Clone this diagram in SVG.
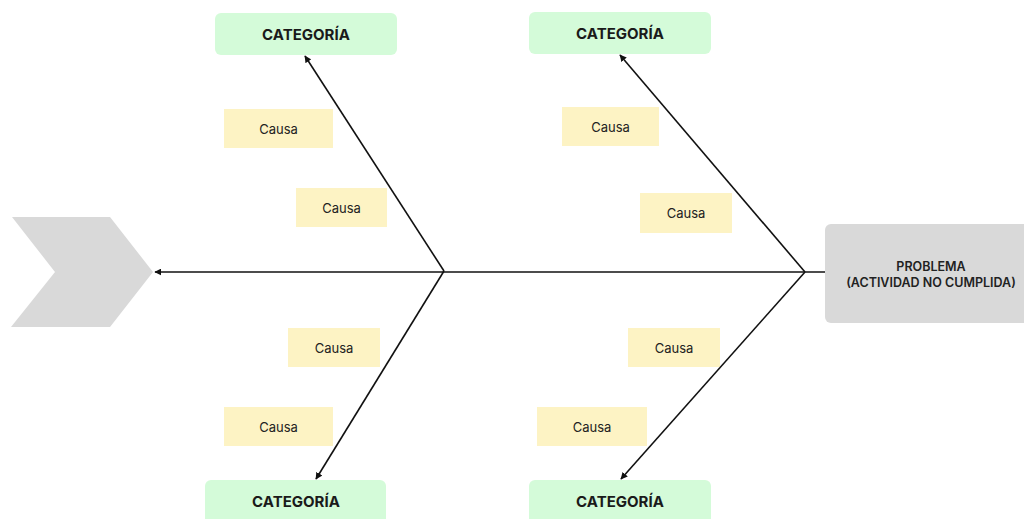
<svg xmlns="http://www.w3.org/2000/svg" width="1024" height="519" viewBox="0 0 1024 519">
  <defs>
    <marker id="arrow" viewBox="0 0 10 10" refX="9" refY="5" markerWidth="7" markerHeight="7" markerUnits="userSpaceOnUse" orient="auto">
      <path d="M0,0 L10,5 L0,10 z" fill="#111"/>
    </marker>
    <style>
      .cat rect { fill: #d4fbd9; }
      .cat text { font-family: Inter, "Liberation Sans", sans-serif; font-size: 15px; font-weight: 700; fill: #1a1a1a; text-anchor: middle; }
      .causa rect { fill: #fdf3c4; }
      .causa text { font-family: Inter, "Liberation Sans", sans-serif; font-size: 13px; fill: #222; text-anchor: middle; }
      .bone { stroke: #111; stroke-width: 1.6; fill: none; }
      .prob text { font-family: Inter, "Liberation Sans", sans-serif; font-size: 12.5px; font-weight: 600; fill: #222; text-anchor: middle; }
    </style>
  </defs>
  <rect width="1024" height="519" fill="#ffffff"/>

  <!-- head: chevron -->
  <g id="chevron">
    <polygon points="12,217 110,217 153,272 110,327 11,327 55,272" fill="#d9d9d9"/>
  </g>

  <!-- problem box -->
  <g id="problema" class="prob">
    <rect x="825" y="224" width="210" height="99" rx="6" fill="#d9d9d9"/>
    <text x="931" y="271">PROBLEMA</text>
    <text x="931" y="287">(ACTIVIDAD NO CUMPLIDA)</text>
  </g>

  <!-- categories -->
  <g id="cat-top-left" class="cat">
    <rect x="215" y="13" width="182" height="42" rx="6"/>
    <text x="306" y="40">CATEGORÍA</text>
  </g>
  <g id="cat-top-right" class="cat">
    <rect x="529" y="12" width="182" height="42" rx="6"/>
    <text x="620" y="39">CATEGORÍA</text>
  </g>
  <g id="cat-bottom-left" class="cat">
    <rect x="205" y="480" width="181" height="50" rx="6"/>
    <text x="296" y="507">CATEGORÍA</text>
  </g>
  <g id="cat-bottom-right" class="cat">
    <rect x="529" y="480" width="182" height="50" rx="6"/>
    <text x="620" y="507">CATEGORÍA</text>
  </g>

  <!-- causes -->
  <g id="causa-1" class="causa">
    <rect x="224" y="109" width="109" height="39"/>
    <text x="278.5" y="134">Causa</text>
  </g>
  <g id="causa-2" class="causa">
    <rect x="296" y="188" width="91" height="39"/>
    <text x="341.5" y="213">Causa</text>
  </g>
  <g id="causa-3" class="causa">
    <rect x="562" y="107" width="97" height="39"/>
    <text x="610.5" y="132">Causa</text>
  </g>
  <g id="causa-4" class="causa">
    <rect x="640" y="193" width="92" height="40"/>
    <text x="686" y="218">Causa</text>
  </g>
  <g id="causa-5" class="causa">
    <rect x="288" y="328" width="92" height="39"/>
    <text x="334" y="353">Causa</text>
  </g>
  <g id="causa-6" class="causa">
    <rect x="224" y="407" width="109" height="39"/>
    <text x="278.5" y="432">Causa</text>
  </g>
  <g id="causa-7" class="causa">
    <rect x="628" y="328" width="92" height="39"/>
    <text x="674" y="353">Causa</text>
  </g>
  <g id="causa-8" class="causa">
    <rect x="537" y="407" width="110" height="39"/>
    <text x="592" y="432">Causa</text>
  </g>

  <!-- connectors -->
  <g id="connectors" class="bone">
    <line x1="825" y1="272" x2="155" y2="272" marker-end="url(#arrow)"/>
    <line x1="444" y1="271" x2="305" y2="56" marker-end="url(#arrow)"/>
    <line x1="805" y1="272" x2="620" y2="55" marker-end="url(#arrow)"/>
    <line x1="444" y1="271" x2="316" y2="479" marker-end="url(#arrow)"/>
    <line x1="805" y1="272" x2="621" y2="479" marker-end="url(#arrow)"/>
  </g>
</svg>
